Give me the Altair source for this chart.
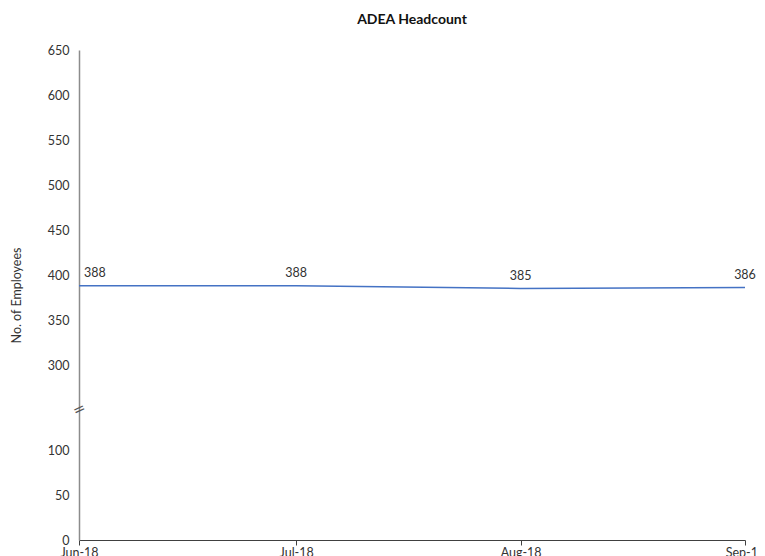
import altair as alt
import pandas as pd

months = ["2018-06-01", "2018-07-01", "2018-08-01", "2018-09-01"]
headcount = [388, 388, 385, 386]
y_ticks = [0, 50, 100, 300, 350, 400, 450, 500, 550, 600, 650]

df = pd.DataFrame({"month": months, "headcount": headcount})
df["label"] = df["headcount"].astype(str)
df["first"] = [True, False, False, False]

FONT = "Lato"
W, H = 666, 490

x_enc = alt.X(
    "month:T",
    scale=alt.Scale(domain=[months[0], months[-1]], nice=False),
    axis=alt.Axis(
        values=months,
        format="%b-%y",
        title=None,
        grid=False,
        domainColor="#404040",
        tickColor="#404040",
        tickSize=5,
        labelFont=FONT,
        labelFontSize=12.5,
        labelColor="#333333",
        labelPadding=1,
        labelFlush=False,
        labelOverlap=False,
    ),
)
y_scale = alt.Scale(domain=[0, 100, 300, 650], range=[H, 400, 315, 0], nice=False, zero=False)
y_enc = alt.Y(
    "headcount:Q",
    scale=y_scale,
    axis=alt.Axis(
        values=y_ticks,
        title="No. of Employees",
        titleFont=FONT,
        titleFontSize=12.5,
        titleFontWeight="normal",
        titleColor="#333333",
        titlePadding=24,
        grid=False,
        ticks=False,
        domainColor="#8c8c8c",
        domainWidth=1.5,
        labelFont=FONT,
        labelFontSize=12.5,
        labelColor="#333333",
        labelPadding=10,
    ),
)

line = alt.Chart(df).mark_line(color="#4472C4", strokeWidth=1.5).encode(x=x_enc, y=y_enc)

lab_first = alt.Chart(df).transform_filter("datum.first").mark_text(
    font=FONT, fontSize=12.5, color="#333333", align="left", dx=5, dy=-13
).encode(x="month:T", y=alt.Y("headcount:Q", scale=y_scale), text="label:N")

lab_rest = alt.Chart(df).transform_filter("!datum.first").mark_text(
    font=FONT, fontSize=12.5, color="#333333", align="center", dy=-13
).encode(x="month:T", y=alt.Y("headcount:Q", scale=y_scale), text="label:N")

# axis-break symbol
brk = alt.Chart(df).transform_filter("datum.first").mark_text(
    text="=", font="DejaVu Sans", fontSize=15, color="#555555", angle=335,
    align="center", baseline="middle"
).encode(x=alt.value(0), y=alt.value(359))

chart = (
    alt.layer(line, lab_first, lab_rest, brk)
    .properties(
        width=W,
        height=H,
        background="white",
        title=alt.TitleParams(
            "ADEA Headcount", font=FONT, fontSize=14, fontWeight="bold",
            color="#111111", anchor="middle", offset=17
        ),
        autosize=alt.AutoSizeParams(type="none"),
        padding={"left": 71, "top": 42, "right": 12, "bottom": 30},
    )
    .configure_view(strokeWidth=0, stroke="transparent")
)

chart.save("out.html", embed_options={"renderer": "svg", "actions": False})
